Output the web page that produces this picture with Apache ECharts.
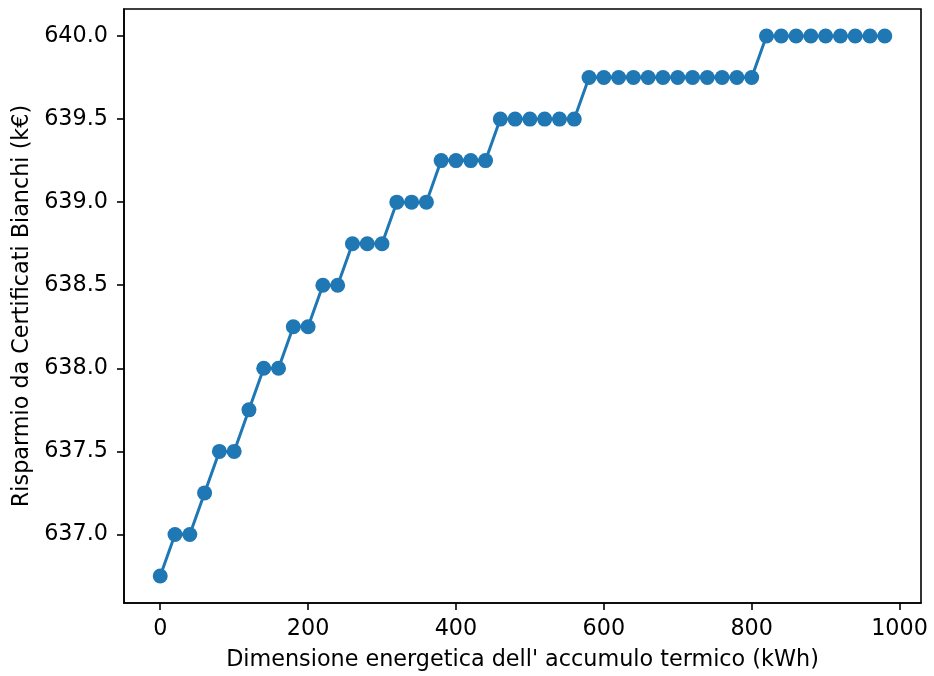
<!DOCTYPE html>
<html>
<head>
<meta charset="utf-8">
<script src="https://cdn.jsdelivr.net/npm/echarts@6/dist/echarts.min.js"></script>
<style>
  html, body { margin: 0; padding: 0; background: #fff; }
  #chart { width: 934px; height: 676px; }
</style>
</head>
<body>
<div id="chart"></div>
<script>
// Storage size of the thermal accumulator (kWh)
const sizes = [
  0, 20, 40, 60, 80, 100, 120, 140, 160, 180,
  200, 220, 240, 260, 280, 300, 320, 340, 360, 380,
  400, 420, 440, 460, 480, 500, 520, 540, 560, 580,
  600, 620, 640, 660, 680, 700, 720, 740, 760, 780,
  800, 820, 840, 860, 880, 900, 920, 940, 960, 980
];
// White certificate savings (k€)
const savings = [
  636.75, 637.0, 637.0, 637.25, 637.5, 637.5, 637.75, 638.0, 638.0, 638.25,
  638.25, 638.5, 638.5, 638.75, 638.75, 638.75, 639.0, 639.0, 639.0, 639.25,
  639.25, 639.25, 639.25, 639.5, 639.5, 639.5, 639.5, 639.5, 639.5, 639.75,
  639.75, 639.75, 639.75, 639.75, 639.75, 639.75, 639.75, 639.75, 639.75, 639.75,
  639.75, 640.0, 640.0, 640.0, 640.0, 640.0, 640.0, 640.0, 640.0, 640.0
];
const xTicks = [0, 200, 400, 600, 800, 1000];
const yTicks = [637.0, 637.5, 638.0, 638.5, 639.0, 639.5, 640.0];

const xTitle = "Dimensione energetica dell' accumulo termico (kWh)";
const yTitle = 'Risparmio da Certificati Bianchi (k€)';

const FONT = 'DejaVu Sans';
const FONT_SIZE = 22.3;
const BLUE = '#1f77b4';

const chart = echarts.init(document.getElementById('chart'), null, { renderer: 'canvas' });

const axisLineStyle = { color: '#000', width: 1.6 };

chart.setOption({
  animation: false,
  backgroundColor: '#ffffff',
  grid: { left: 124, right: 13, top: 9, bottom: 73, show: true, borderColor: '#000', borderWidth: 1.6, backgroundColor: 'transparent' },
  xAxis: {
    type: 'value',
    min: -49,
    max: 1029,
    name: xTitle,
    nameLocation: 'middle',
    nameGap: 46,
    nameTextStyle: { fontFamily: FONT, fontSize: FONT_SIZE, color: '#000' },
    axisLine: { show: true, onZero: false, lineStyle: axisLineStyle },
    axisTick: { show: true, length: 7, inside: false, customValues: xTicks, lineStyle: axisLineStyle },
    axisLabel: { customValues: xTicks, margin: 15, fontFamily: FONT, fontSize: FONT_SIZE, color: '#000',
      formatter: v => String(Math.round(v)) },
    splitLine: { show: false }
  },
  yAxis: {
    type: 'value',
    min: 636.5875,
    max: 640.1625,
    name: yTitle,
    nameLocation: 'middle',
    nameGap: 90,
    nameRotate: 90,
    nameTextStyle: { fontFamily: FONT, fontSize: FONT_SIZE, color: '#000' },
    axisLine: { show: true, onZero: false, lineStyle: axisLineStyle },
    axisTick: { show: true, length: 7, inside: false, customValues: yTicks, lineStyle: axisLineStyle },
    axisLabel: { customValues: yTicks, margin: 16, fontFamily: FONT, fontSize: FONT_SIZE, color: '#000',
      formatter: v => v.toFixed(1) },
    splitLine: { show: false }
  },
  series: [{
    type: 'line',
    data: sizes.map((x, i) => [x, savings[i]]),
    symbol: 'circle',
    symbolSize: 15,
    showSymbol: true,
    lineStyle: { color: BLUE, width: 3 },
    itemStyle: { color: BLUE, borderWidth: 0 },
    emphasis: { disabled: true },
    z: 3
  }]
});
</script>
</body>
</html>
